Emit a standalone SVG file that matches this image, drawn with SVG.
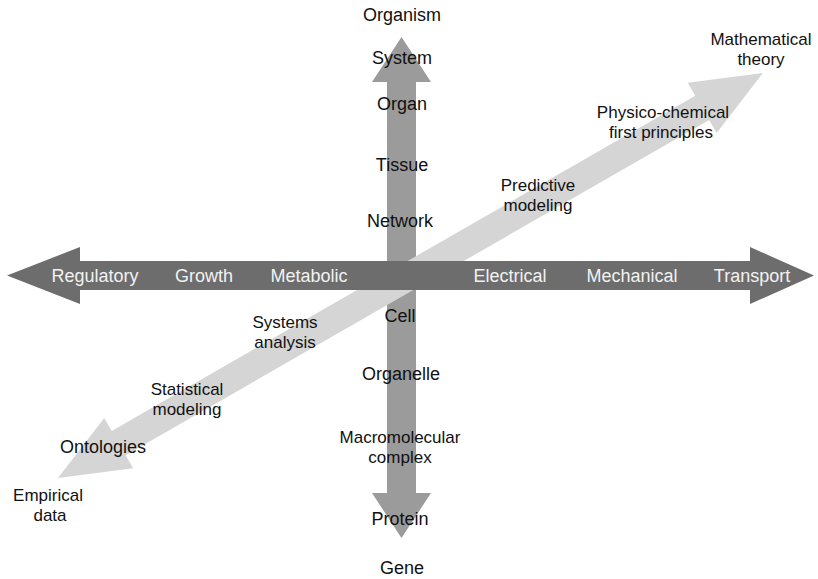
<svg xmlns="http://www.w3.org/2000/svg" width="818" height="579" viewBox="0 0 818 579">
  <style>
    text { font-family: "Liberation Sans", Arial, Helvetica, sans-serif; font-size: 18px; text-anchor: middle; fill: #111; }
    text.ml { font-size: 17px; }
    .onDark { fill: #f2f2f2; }
    .vert { fill: #9b9b9b; }
    .diag { fill: #d5d5d5; }
    .horiz { fill: #6d6d6d; }
  </style>
  <rect width="818" height="579" fill="#ffffff"/>

  <!-- Double-headed axis arrows -->
  <g id="arrows">
    <!-- vertical: biological scale -->
    <polygon class="vert" points="401.5,37 431,82 416,82 416,493 431,493 401.5,538 372,493 387,493 387,82 372,82"/>
    <!-- diagonal: empirical data to mathematical theory -->
    <polygon class="diag" transform="translate(58,478) rotate(-29.88)" points="0,0 70,-29 70,-14 743,-14 743,-29 813,0 743,29 743,14 70,14 70,29"/>
    <!-- horizontal: physiological function -->
    <polygon class="horiz" points="7,275.5 80,247 80,261 750,261 750,247 814,275.5 750,304 750,290 80,290 80,304"/>
  </g>

  <!-- vertical axis labels -->
  <g id="scale-labels">
    <text x="402" y="21">Organism</text>
    <text x="402" y="64">System</text>
    <text x="402" y="110">Organ</text>
    <text x="402" y="171">Tissue</text>
    <text x="400" y="227">Network</text>
    <text x="400" y="322">Cell</text>
    <text x="401" y="380">Organelle</text>
    <text class="ml" x="400" y="443">Macromolecular</text>
    <text class="ml" x="400" y="463">complex</text>
    <text x="400" y="525">Protein</text>
    <text x="402" y="574">Gene</text>
  </g>

  <!-- horizontal axis labels -->
  <g id="function-labels">
    <text class="onDark" x="95" y="282">Regulatory</text>
    <text class="onDark" x="204" y="282">Growth</text>
    <text class="onDark" x="309" y="282">Metabolic</text>
    <text class="onDark" x="510" y="282">Electrical</text>
    <text class="onDark" x="632" y="282">Mechanical</text>
    <text class="onDark" x="752" y="282">Transport</text>
  </g>

  <!-- diagonal axis labels -->
  <g id="method-labels">
    <text class="ml" x="761" y="45">Mathematical</text>
    <text class="ml" x="761" y="65">theory</text>
    <text class="ml" x="663" y="118">Physico-chemical</text>
    <text class="ml" x="661" y="138">first principles</text>
    <text class="ml" x="538" y="191">Predictive</text>
    <text class="ml" x="538" y="211">modeling</text>
    <text class="ml" x="285" y="328">Systems</text>
    <text class="ml" x="285" y="348">analysis</text>
    <text class="ml" x="187" y="395">Statistical</text>
    <text class="ml" x="187" y="415">modeling</text>
    <text x="103" y="453">Ontologies</text>
    <text class="ml" x="48" y="501">Empirical</text>
    <text class="ml" x="50" y="521">data</text>
  </g>
</svg>
